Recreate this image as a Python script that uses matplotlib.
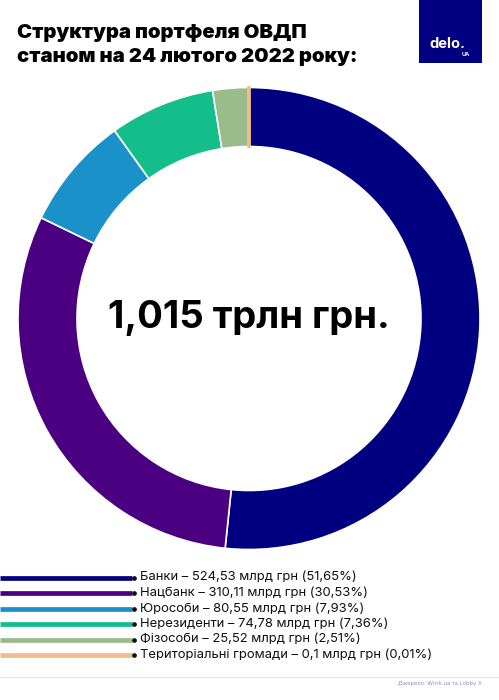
import matplotlib
matplotlib.use('Agg')
import matplotlib.pyplot as plt
from matplotlib.patches import Rectangle

W, H = 499, 700
FONT = ['Inter', 'DejaVu Sans']
plt.rcParams['font.family'] = FONT

categories = ['Банки', 'Нацбанк', 'Юрособи', 'Нерезиденти', 'Фізособи', 'Територіальні громади']
values_bn = [524.53, 310.11, 80.55, 74.78, 25.52, 0.1]
value_labels = ['524,53', '310,11', '80,55', '74,78', '25,52', '0,1']
share_labels = ['51,65', '30,53', '7,93', '7,36', '2,51', '0,01']
colors = ['#000080', '#4B0082', '#1A91C9', '#14BE8A', '#9ABB8A', '#EDBE8B']

title_lines = ['Структура портфеля ОВДП', 'станом на 24 лютого 2022 року:']
center_text = '1,015 трлн грн.'
source_text = 'Джерело: Work.ua та Lobby X'

fig = plt.figure(figsize=(W / 100, H / 100), dpi=100, facecolor='white')

# page-level canvas in pixel units
page = fig.add_axes([0, 0, 1, 1])
page.set_xlim(0, W)
page.set_ylim(H, 0)
page.axis('off')

# donut
cx, cy, R = 249, 318.5, 231
pie_ax = fig.add_axes([(cx - R) / W, 1 - (cy + R) / H, 2 * R / W, 2 * R / H])
wedges, _ = pie_ax.pie(values_bn, colors=colors, startangle=90, counterclock=False,
                       radius=1, wedgeprops=dict(width=59 / 231, edgecolor='white', linewidth=1.2))
wedges[-1].set_edgecolor(colors[-1])
wedges[-1].set_linewidth(2.2)
pie_ax.set_xlim(-1, 1)
pie_ax.set_ylim(-1, 1)
pie_ax.set_aspect('equal')
pie_ax.patch.set_alpha(0)

pie_ax.text(0, 0, center_text, ha='center', va='center', fontsize=27.5, fontweight='bold', color='black')

# title
for y, line in zip((33, 57), title_lines):
    page.text(17, y, line, fontsize=14.6, fontweight='black', color='black', va='center', ha='left')

# logo
page.add_patch(Rectangle((419, 0), 63, 63, facecolor='#000080', edgecolor='none'))
page.text(429.5, 44.5, 'delo.', color='white', fontsize=10.5, fontweight='bold', va='center', ha='left')
page.text(470, 54.5, 'UA', color='white', fontsize=4, fontweight='bold', va='center', ha='right')

# legend
legend_y = [577.5, 593, 608.5, 624, 639.5, 655]
for y, c, cat, v, s in zip(legend_y, colors, categories, value_labels, share_labels):
    page.plot([0, 132], [y, y], color=c, lw=3.4, solid_capstyle='butt')
    page.plot([134.5], [y], marker='o', ms=2.4, color='#111111')
    page.text(140, y, f'{cat} – {v} млрд грн ({s}%)', fontsize=9.4, color='#111111',
              va='center', ha='left')

# footer
page.plot([0, 499], [677, 677], color='#E4E4E4', lw=0.8)
page.text(482, 683, source_text, fontsize=4.1, color='#8C8CC0', va='center', ha='right')

fig.savefig('out.png', dpi=100, facecolor='white')
